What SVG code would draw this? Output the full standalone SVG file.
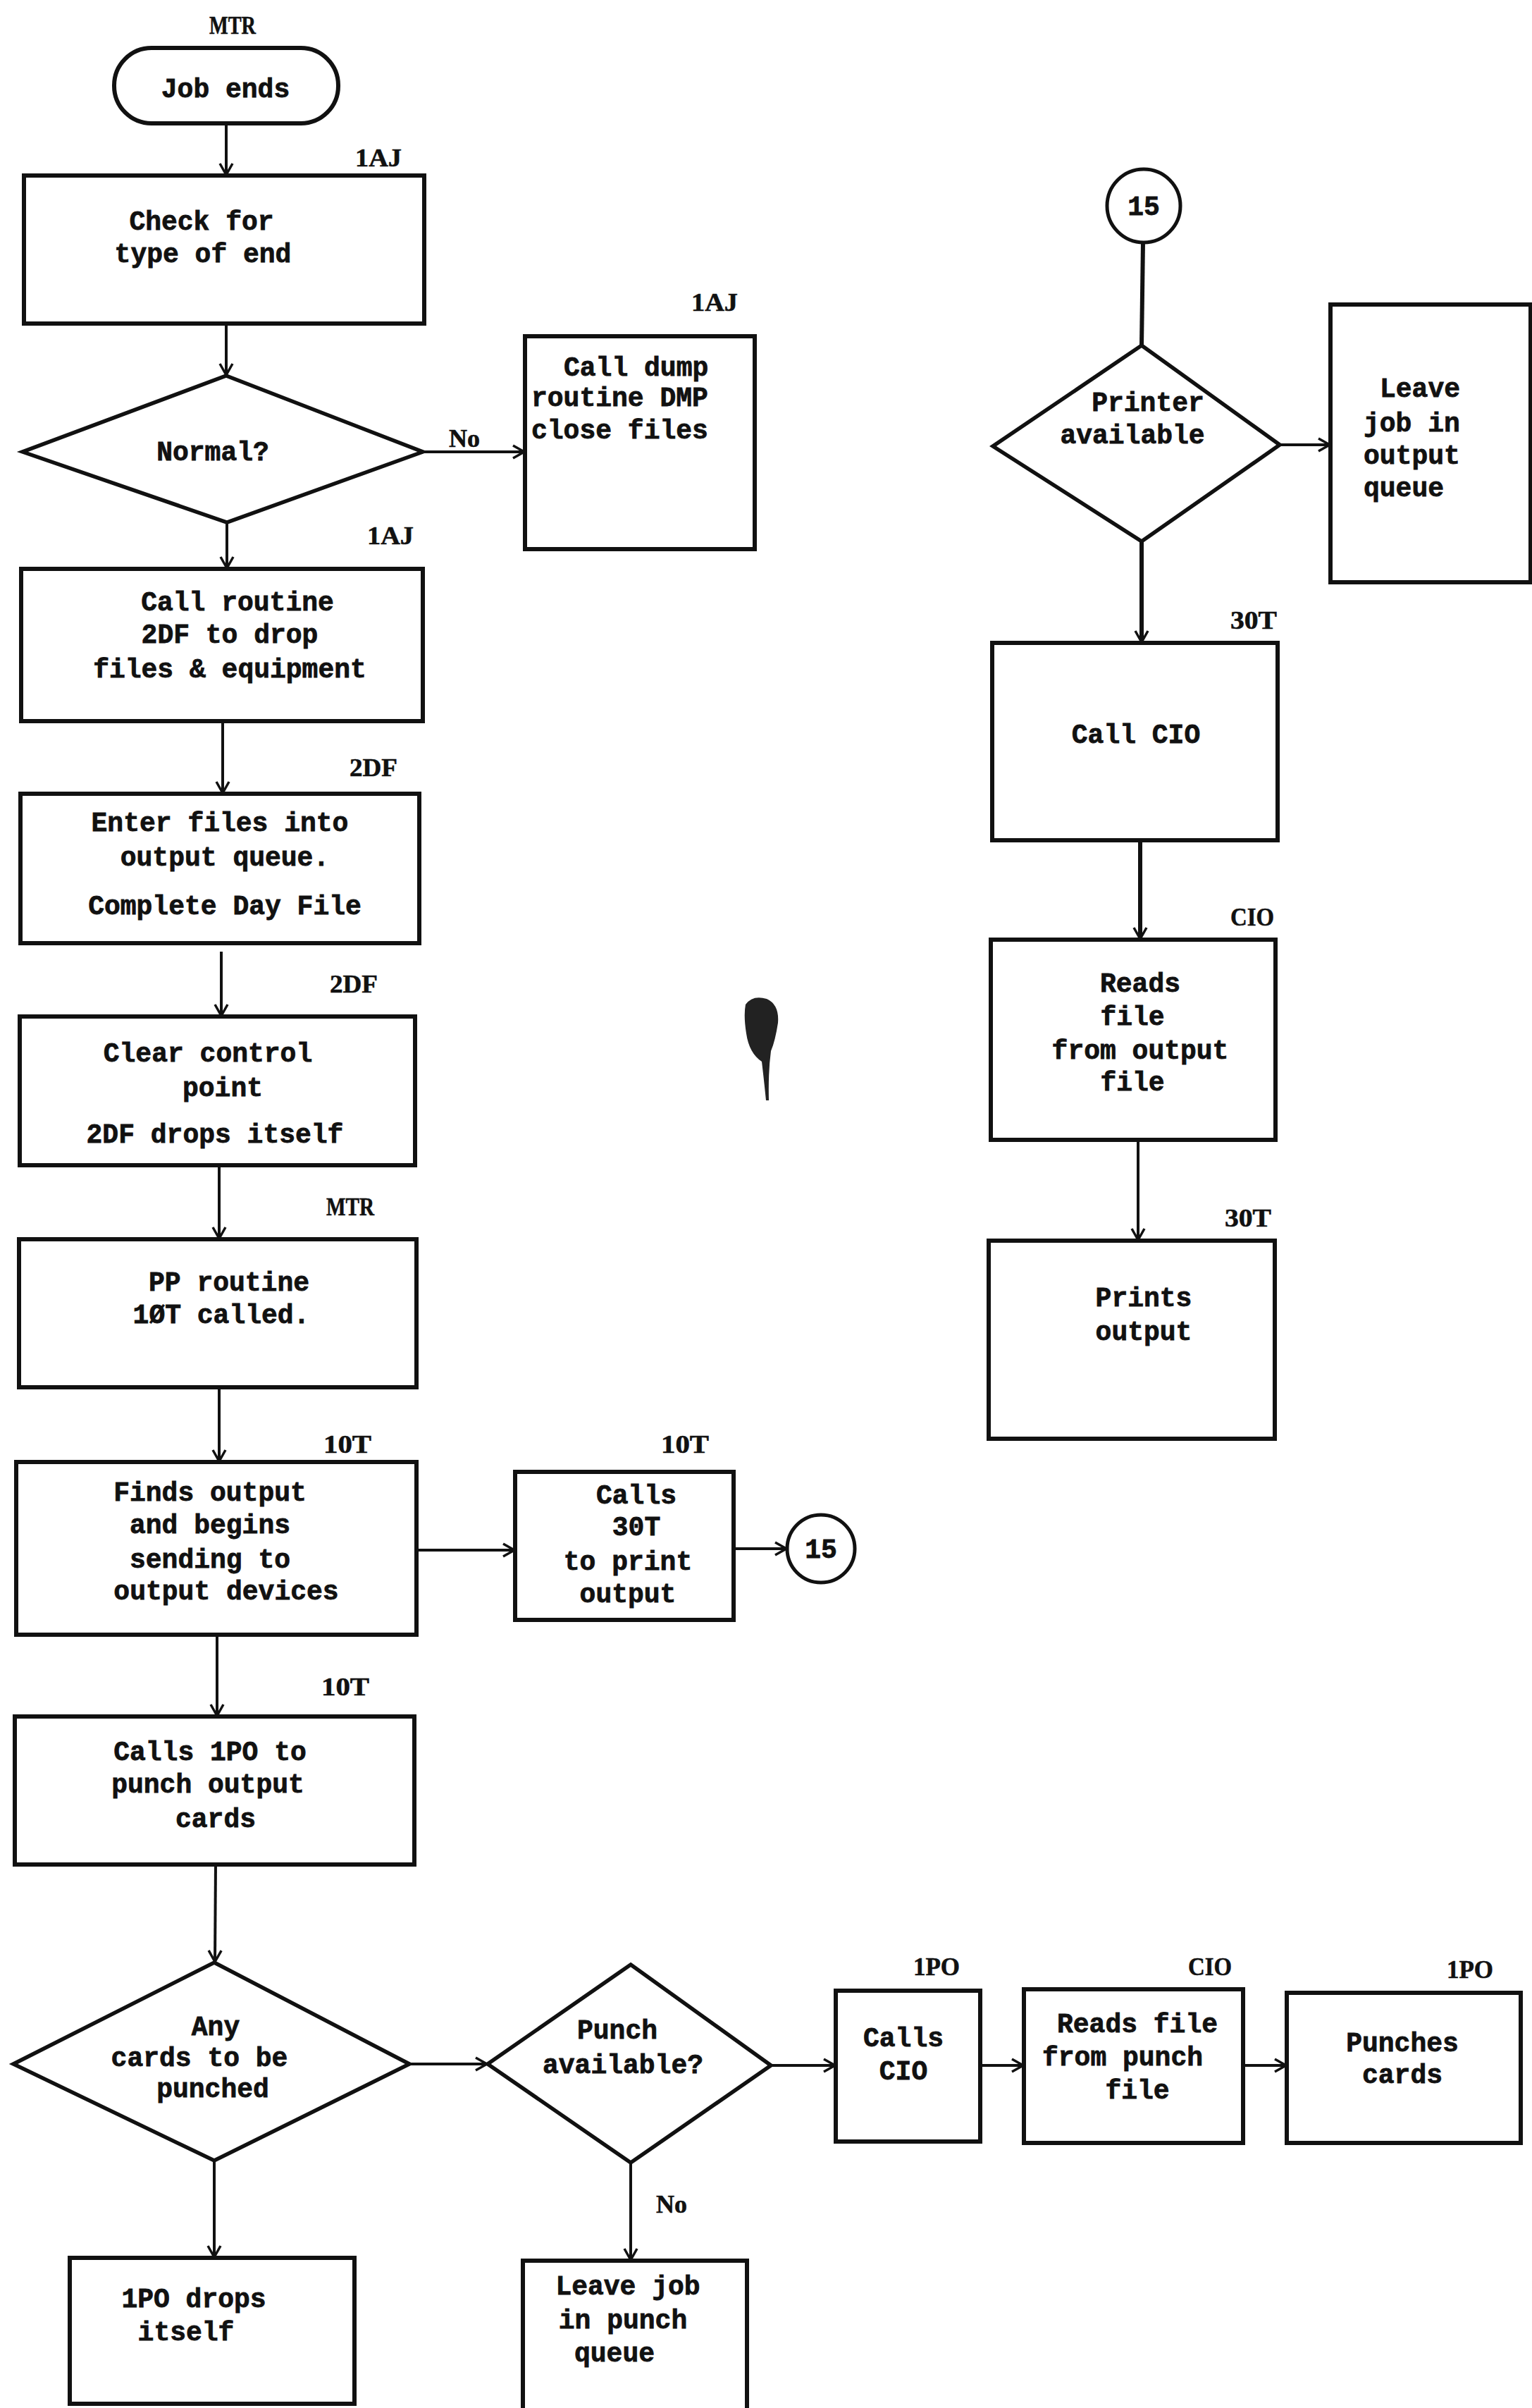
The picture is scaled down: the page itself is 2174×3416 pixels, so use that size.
<svg xmlns="http://www.w3.org/2000/svg" width="2174" height="3416" viewBox="0 0 2174 3416">
<style>
.box{fill:none;stroke:#111;stroke-width:6;stroke-linejoin:miter}
.dia{fill:none;stroke:#111;stroke-width:5.5;stroke-linejoin:miter}
.con{fill:none;stroke:#111;stroke-width:4}
.t{font-family:"Liberation Mono","Courier New",monospace;font-weight:bold;font-size:38px;fill:#111;stroke:#111;stroke-width:0.8;text-anchor:middle}
.ts{text-anchor:start}
.lb{font-family:"Liberation Serif","Times New Roman",serif;font-weight:bold;font-size:36px;fill:#111;stroke:#111;stroke-width:0.6;text-anchor:middle}
</style>
<defs>
<marker id="ah" viewBox="-20 -12 24 24" refX="0" refY="0" markerWidth="24" markerHeight="24" markerUnits="userSpaceOnUse" orient="auto">
<path d="M-16,-9 L0,0 L-16,9" fill="none" stroke="#111" stroke-width="3.5"/>
</marker>
</defs>
<rect width="2174" height="3416" fill="#fff"/>
<path d="M1058,1425 q10,-14 30,-8 q18,8 16,34 q-4,26 -10,40 q-4,30 -3,70 l-4,0 q-3,-30 -6,-55 q-18,-12 -22,-40 q-4,-25 -1,-41z" fill="#222"/>

<g id="connectors">
<line class="con" x1="321" y1="175" x2="321" y2="248" marker-end="url(#ah)"/>
<line class="con" x1="321" y1="459" x2="321" y2="532" marker-end="url(#ah)"/>
<line class="con" x1="600" y1="641" x2="744" y2="641" marker-end="url(#ah)"/>
<line class="con" x1="322" y1="741" x2="322" y2="806" marker-end="url(#ah)"/>
<line class="con" x1="316" y1="1023" x2="316" y2="1125" marker-end="url(#ah)"/>
<line class="con" x1="314" y1="1350" x2="314" y2="1441" marker-end="url(#ah)"/>
<line class="con" x1="311" y1="1653" x2="311" y2="1757" marker-end="url(#ah)"/>
<line class="con" x1="311" y1="1968" x2="311" y2="2073" marker-end="url(#ah)"/>
<line class="con" x1="591" y1="2199" x2="730" y2="2199" marker-end="url(#ah)"/>
<line class="con" x1="1041" y1="2197" x2="1116" y2="2197" marker-end="url(#ah)"/>
<line class="con" x1="308" y1="2319" x2="308" y2="2434" marker-end="url(#ah)"/>
<line class="con" x1="306" y1="2645" x2="305" y2="2783" marker-end="url(#ah)"/>
<line class="con" x1="581" y1="2928" x2="691" y2="2928" marker-end="url(#ah)"/>
<line class="con" x1="304" y1="3065" x2="304" y2="3202" marker-end="url(#ah)"/>
<line class="con" x1="1094" y1="2930" x2="1185" y2="2930" marker-end="url(#ah)"/>
<line class="con" x1="895" y1="3068" x2="895" y2="3206" marker-end="url(#ah)"/>
<line class="con" x1="1391" y1="2930" x2="1452" y2="2930" marker-end="url(#ah)"/>
<line class="con" x1="1764" y1="2930" x2="1825" y2="2930" marker-end="url(#ah)"/>
<line class="con" x1="1622" y1="344" x2="1620" y2="490" style="stroke-width:6"/>
<line class="con" x1="1816" y1="631" x2="1887" y2="631" marker-end="url(#ah)"/>
<line class="con" x1="1620" y1="768" x2="1620" y2="911" style="stroke-width:6" marker-end="url(#ah)"/>
<line class="con" x1="1618" y1="1192" x2="1618" y2="1332" style="stroke-width:6" marker-end="url(#ah)"/>
<line class="con" x1="1615" y1="1617" x2="1615" y2="1759" marker-end="url(#ah)"/>
<text class="lb" x="659" y="634" textLength="44" lengthAdjust="spacingAndGlyphs">No</text>
<text class="lb" x="953" y="3139" textLength="44" lengthAdjust="spacingAndGlyphs">No</text>
</g>

<g id="job-ends">
<text class="lb" x="330" y="48" textLength="66" lengthAdjust="spacingAndGlyphs">MTR</text>
<rect class="box" x="162" y="68" width="318" height="107" rx="53"/>
<text class="t" x="320" y="138">Job ends</text>
</g>
<g id="check-type">
<text class="lb" x="537" y="236" textLength="66" lengthAdjust="spacingAndGlyphs">1AJ</text>
<rect class="box" x="34" y="249" width="568" height="210"/>
<text class="t" x="286" y="326">Check for</text>
<text class="t" x="288" y="372">type of end</text>
</g>
<g id="normal">
<polygon class="dia" points="321,533 600,641 322,741 32,641"/>
<text class="t" x="302" y="653">Normal?</text>
</g>
<g id="call-dump">
<text class="lb" x="1014" y="441" textLength="66" lengthAdjust="spacingAndGlyphs">1AJ</text>
<rect class="box" x="745" y="477" width="326" height="302"/>
<text class="t ts" x="800" y="533">Call dump</text>
<text class="t ts" x="754" y="576">routine DMP</text>
<text class="t ts" x="754" y="622">close files</text>
</g>
<g id="call-routine">
<text class="lb" x="554" y="772" textLength="66" lengthAdjust="spacingAndGlyphs">1AJ</text>
<rect class="box" x="30" y="807" width="570" height="216"/>
<text class="t" x="337" y="866">Call routine</text>
<text class="t" x="326" y="912">2DF to drop</text>
<text class="t" x="326" y="961">files &amp; equipment</text>
</g>
<g id="enter-files">
<text class="lb" x="530" y="1101" textLength="68" lengthAdjust="spacingAndGlyphs">2DF</text>
<rect class="box" x="29" y="1126" width="566" height="212"/>
<text class="t" x="312" y="1179">Enter files into</text>
<text class="t" x="319" y="1228">output queue.</text>
<text class="t" x="319" y="1297">Complete Day File</text>
</g>
<g id="clear-control">
<text class="lb" x="502" y="1408" textLength="68" lengthAdjust="spacingAndGlyphs">2DF</text>
<rect class="box" x="28" y="1442" width="561" height="211"/>
<text class="t" x="295" y="1506">Clear control</text>
<text class="t" x="316" y="1555">point</text>
<text class="t" x="305" y="1621">2DF drops itself</text>
</g>
<g id="pp-routine">
<text class="lb" x="497" y="1724" textLength="68" lengthAdjust="spacingAndGlyphs">MTR</text>
<rect class="box" x="27" y="1758" width="564" height="210"/>
<text class="t" x="325" y="1831">PP routine</text>
<text class="t" x="314" y="1877">1ØT called.</text>
</g>
<g id="finds-output">
<text class="lb" x="493" y="2061" textLength="68" lengthAdjust="spacingAndGlyphs">10T</text>
<rect class="box" x="23" y="2074" width="568" height="245"/>
<text class="t" x="298" y="2129">Finds output</text>
<text class="t" x="298" y="2175">and begins</text>
<text class="t" x="298" y="2224">sending to</text>
<text class="t" x="321" y="2269">output devices</text>
</g>
<g id="calls-30t">
<text class="lb" x="972" y="2061" textLength="68" lengthAdjust="spacingAndGlyphs">10T</text>
<rect class="box" x="731" y="2088" width="310" height="210"/>
<text class="t" x="903" y="2133">Calls</text>
<text class="t" x="903" y="2178">30T</text>
<text class="t" x="891" y="2227">to print</text>
<text class="t" x="891" y="2273">output</text>
</g>
<g id="connector-15-out">
<circle class="box" cx="1165" cy="2197" r="48" style="stroke-width:5"/>
<text class="t" x="1165" y="2210">15</text>
</g>
<g id="calls-1po">
<text class="lb" x="490" y="2405" textLength="68" lengthAdjust="spacingAndGlyphs">10T</text>
<rect class="box" x="21" y="2435" width="567" height="210"/>
<text class="t" x="298" y="2497">Calls 1PO to</text>
<text class="t" x="295" y="2543">punch output</text>
<text class="t" x="306" y="2592">cards</text>
</g>
<g id="any-cards">
<polygon class="dia" points="304,2784 581,2928 304,3065 19,2928"/>
<text class="t" x="306" y="2887">Any</text>
<text class="t" x="283" y="2931">cards to be</text>
<text class="t" x="302" y="2975">punched</text>
</g>
<g id="punch-available">
<polygon class="dia" points="895,2787 1094,2930 895,3068 692,2928"/>
<text class="t" x="876" y="2892">Punch</text>
<text class="t" x="884" y="2941">available?</text>
</g>
<g id="calls-cio-punch">
<text class="lb" x="1329" y="2802" textLength="66" lengthAdjust="spacingAndGlyphs">1PO</text>
<rect class="box" x="1186" y="2824" width="205" height="214"/>
<text class="t" x="1282" y="2903">Calls</text>
<text class="t" x="1282" y="2950">CIO</text>
</g>
<g id="reads-punch-file">
<text class="lb" x="1717" y="2802" textLength="62" lengthAdjust="spacingAndGlyphs">CIO</text>
<rect class="box" x="1453" y="2822" width="311" height="218"/>
<text class="t" x="1614" y="2883">Reads file</text>
<text class="t" x="1593" y="2930">from punch</text>
<text class="t" x="1614" y="2977">file</text>
</g>
<g id="punches-cards">
<text class="lb" x="2086" y="2806" textLength="66" lengthAdjust="spacingAndGlyphs">1PO</text>
<rect class="box" x="1826" y="2827" width="332" height="213"/>
<text class="t" x="1990" y="2910">Punches</text>
<text class="t" x="1990" y="2955">cards</text>
</g>
<g id="1po-drops">
<rect class="box" x="99" y="3203" width="404" height="207"/>
<text class="t" x="275" y="3273">1PO drops</text>
<text class="t" x="264" y="3320">itself</text>
</g>
<g id="leave-punch-queue">
<rect class="box" x="742" y="3207" width="318" height="240"/>
<text class="t" x="891" y="3255">Leave job</text>
<text class="t" x="884" y="3303">in punch</text>
<text class="t" x="872" y="3350">queue</text>
</g>
<g id="connector-15-in">
<circle class="box" cx="1623" cy="292" r="52" style="stroke-width:5"/>
<text class="t" x="1623" y="305">15</text>
</g>
<g id="printer-available">
<polygon class="dia" points="1620,490 1816,631 1620,768 1409,633"/>
<text class="t" x="1629" y="583">Printer</text>
<text class="t" x="1607" y="629">available</text>
</g>
<g id="leave-output-queue">
<rect class="box" x="1888" y="432" width="284" height="394"/>
<text class="t ts" x="1958" y="563">Leave</text>
<text class="t ts" x="1935" y="612">job in</text>
<text class="t ts" x="1935" y="658">output</text>
<text class="t ts" x="1935" y="704">queue</text>
</g>
<g id="call-cio">
<text class="lb" x="1779" y="892" textLength="66" lengthAdjust="spacingAndGlyphs">30T</text>
<rect class="box" x="1408" y="912" width="405" height="280"/>
<text class="t" x="1612" y="1054">Call CIO</text>
</g>
<g id="reads-output-file">
<text class="lb" x="1777" y="1313" textLength="62" lengthAdjust="spacingAndGlyphs">CIO</text>
<rect class="box" x="1406" y="1333" width="404" height="284"/>
<text class="t" x="1618" y="1407">Reads</text>
<text class="t" x="1607" y="1454">file</text>
<text class="t" x="1618" y="1502">from output</text>
<text class="t" x="1607" y="1547">file</text>
</g>
<g id="prints-output">
<text class="lb" x="1771" y="1740" textLength="66" lengthAdjust="spacingAndGlyphs">30T</text>
<rect class="box" x="1403" y="1760" width="406" height="281"/>
<text class="t" x="1623" y="1853">Prints</text>
<text class="t" x="1623" y="1901">output</text>
</g>
</svg>
